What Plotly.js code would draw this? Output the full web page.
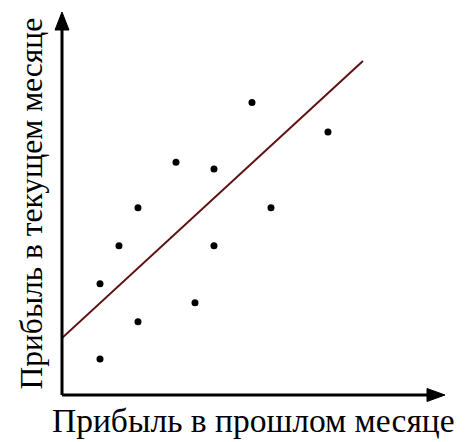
<!DOCTYPE html>
<html>
<head>
<meta charset="utf-8">
<script src="https://cdn.plot.ly/plotly-3.0.1.min.js"></script>
<style>html,body{margin:0;padding:0;background:#fff;}#chart{width:469px;height:442px;}</style>
</head>
<body>
<div id="chart"></div>
<script>
// Scatter data (profit last month vs profit this month)
const prevMonth = [2, 2, 3, 4, 4, 6, 7, 8, 8, 10, 11, 14];
const currMonth = [1.9, 5.85, 7.85, 9.85, 3.85, 12.25, 4.85, 11.9, 7.85, 15.4, 9.85, 13.85];
// Trend line endpoints
const trendX = [0, 15.84];
const trendY = [3.0, 17.58];
// Texts
const xTitle = "Прибыль в прошлом месяце";
const yTitle = "Прибыль в текущем месяце";
const xMax = 20.16, yMax = 20.16;

const traces = [
  {x: trendX, y: trendY, mode: 'lines', line: {color: '#5e1111', width: 2}, hoverinfo: 'skip'},
  {x: prevMonth, y: currMonth, mode: 'markers', marker: {color: '#000', size: 7}}
];

const font = "'Liberation Serif', 'Times New Roman', serif";
const layout = {
  width: 469, height: 442,
  margin: {l: 62, r: 24, t: 12, b: 47},
  paper_bgcolor: '#fff', plot_bgcolor: '#fff',
  showlegend: false,
  xaxis: {range: [0, xMax], showgrid: false, zeroline: false, showticklabels: false, ticks: '', showline: false, fixedrange: true},
  yaxis: {range: [0, yMax], showgrid: false, zeroline: false, showticklabels: false, ticks: '', showline: false, fixedrange: true},
  shapes: [
    {type: 'line', xref: 'paper', yref: 'paper', x0: 0, x1: 0.96, y0: 0, y1: 0, line: {color: '#000', width: 3}},
    {type: 'line', xref: 'paper', yref: 'paper', x0: 0, x1: 0, y0: 0, y1: 0.96, line: {color: '#000', width: 3}},
    {type: 'path', xref: 'paper', yref: 'paper', xsizemode: 'pixel', ysizemode: 'pixel', xanchor: 1, yanchor: 0,
     path: 'M-18,-6.5 L0,0 L-18,6.5 Z', fillcolor: '#000', line: {color: '#000', width: 1}},
    {type: 'path', xref: 'paper', yref: 'paper', xsizemode: 'pixel', ysizemode: 'pixel', xanchor: 0, yanchor: 1,
     path: 'M-7,-18 L0,0 L7,-18 Z', fillcolor: '#000', line: {color: '#000', width: 1}}
  ],
  annotations: [
    {text: xTitle, xref: 'paper', yref: 'paper', x: 0.5, y: 0, xanchor: 'center', yanchor: 'middle', yshift: -25, showarrow: false,
     font: {family: font, size: 33.5, color: '#000'}},
    {text: yTitle, xref: 'paper', yref: 'paper', x: 0, y: 0.5, xanchor: 'center', yanchor: 'middle', xshift: -31, textangle: -90, showarrow: false,
     font: {family: font, size: 31.5, color: '#000'}}
  ]
};
Plotly.newPlot('chart', traces, layout, {displayModeBar: false, staticPlot: true});
</script>
</body>
</html>
